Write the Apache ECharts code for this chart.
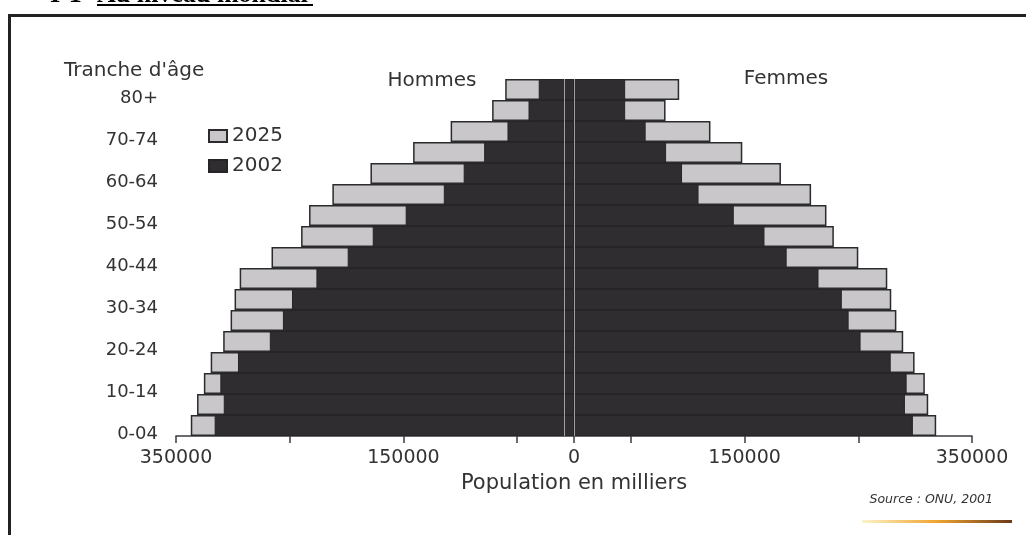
<!DOCTYPE html>
<html>
<head>
<meta charset="utf-8">
<script src="https://cdn.jsdelivr.net/npm/echarts@6/dist/echarts.min.js"></script>
<style>
  html, body { margin: 0; padding: 0; background: #fff; }
  #chart { width: 1026px; height: 535px; }
</style>
</head>
<body>
<div id="chart"></div>
<script>
// age groups, bottom to top
const ageGroups = ['0-04', '05-09', '10-14', '15-19', '20-24', '25-29', '30-34', '35-39', '40-44',
  '45-49', '50-54', '55-59', '60-64', '65-69', '70-74', '75-79', '80+'];

// population in thousands
const men2002 = [316000, 308000, 311000, 295500, 267500, 256000, 248000, 226500, 199000,
  177000, 148000, 114500, 97000, 79000, 58500, 40000, 31000];
const men2025 = [337000, 331500, 325500, 319500, 308500, 302000, 298500, 294000, 266000,
  240000, 233000, 212500, 179000, 141500, 108500, 72000, 60500];
const women2002 = [298000, 291000, 292500, 278500, 252000, 241500, 235500, 215000, 187000,
  167500, 140500, 109500, 95000, 81000, 63000, 45000, 45000];
const women2025 = [318500, 311500, 308500, 299500, 289500, 283500, 279000, 275500, 250000,
  228500, 222000, 208500, 182000, 148000, 120000, 80500, 92500];

const tickValues = [-350000, -250000, -150000, -50000, 0, 50000, 150000, 250000, 350000];
const labelValues = [-350000, -150000, 0, 150000, 350000];
const centerLines = [0, -9000];

const chart = echarts.init(document.getElementById('chart'));
const font = '"DejaVu Sans", sans-serif';
const light = { color: '#c9c7ca', borderColor: '#2b2a2c', borderWidth: 1.5 };
const dark = { color: '#302d31', borderColor: '#262427', borderWidth: 1 };
const neg = arr => arr.map(v => -v);

const option = {
  animation: false,
  backgroundColor: '#fff',
  textStyle: { fontFamily: font },
  title: {
    text: "Tranche d'âge",
    left: 64,
    top: 61,
    padding: 0,
    textStyle: { fontSize: 20, fontWeight: 'normal', color: '#333', fontFamily: font }
  },
  legend: {
    data: ['2025', '2002'],
    orient: 'vertical',
    left: 208,
    top: 126,
    padding: 0,
    itemWidth: 18,
    itemHeight: 12,
    itemGap: 10,
    icon: 'rect',
    textStyle: { fontSize: 20, color: '#333', fontFamily: font }
  },
  grid: { left: 176, right: 54, top: 79, bottom: 99, containLabel: false },
  xAxis: {
    type: 'value',
    min: -350000,
    max: 350000,
    interval: 50000,
    name: 'Population en milliers',
    nameLocation: 'middle',
    nameGap: 37,
    nameTextStyle: { fontSize: 21, color: '#333', fontFamily: font },
    axisLine: { show: true, onZero: false, lineStyle: { color: '#3a3a40', width: 1.5 } },
    axisTick: { show: true, length: 7, customValues: tickValues, lineStyle: { color: '#3a3a40', width: 1.5 } },
    axisLabel: {
      customValues: labelValues,
      formatter: v => String(Math.abs(v)),
      fontSize: 19,
      color: '#333',
      margin: 13
    },
    splitLine: { show: false }
  },
  yAxis: {
    type: 'category',
    data: ageGroups,
    axisLine: { show: false },
    axisTick: { show: false },
    axisLabel: {
      interval: 1,
      fontSize: 18,
      color: '#333',
      margin: 18,
      verticalAlign: 'top'
    }
  },
  series: [
    { name: '2025', type: 'bar', stack: 'y2025', data: neg(men2025), itemStyle: light,
      barCategoryGap: 0, barGap: '-100%' },
    { name: '2025', type: 'bar', stack: 'y2025', data: women2025, itemStyle: light },
    { name: '2002', type: 'bar', stack: 'y2002', data: neg(men2002), itemStyle: dark },
    { name: '2002', type: 'bar', stack: 'y2002', data: women2002, itemStyle: dark,
      markLine: {
        silent: true,
        symbol: 'none',
        label: { show: false },
        lineStyle: { color: '#bdbbbe', width: 1, type: 'solid', opacity: 0.8 },
        data: centerLines.map(v => ({ xAxis: v }))
      }
    }
  ],
  graphic: [
    // scan frame
    { type: 'rect', shape: { x: 8, y: 14, width: 3, height: 521 }, style: { fill: '#222' } },
    { type: 'rect', shape: { x: 8, y: 14, width: 1018, height: 3 }, style: { fill: '#222' } },
    // cut-off heading
    { type: 'text', x: 50, y: 8, style: { text: 'I-1', font: 'bold 26px "Liberation Serif", serif',
      fill: '#000', verticalAlign: 'bottom', textVerticalAlign: 'bottom' } },
    { type: 'text', x: 97, y: 8, style: { text: 'Au niveau mondial', font: 'bold 26px "Liberation Serif", serif',
      fill: '#000', verticalAlign: 'bottom', textVerticalAlign: 'bottom' } },
    { type: 'rect', shape: { x: 97, y: 4, width: 216, height: 2 }, style: { fill: '#000' } },
    // side titles
    { type: 'text', x: 432, y: 81, style: { text: 'Hommes', font: '20px "DejaVu Sans", sans-serif', fill: '#333',
      align: 'center', textAlign: 'center', verticalAlign: 'middle', textVerticalAlign: 'middle' } },
    { type: 'text', x: 786, y: 79, style: { text: 'Femmes', font: '20px "DejaVu Sans", sans-serif', fill: '#333',
      align: 'center', textAlign: 'center', verticalAlign: 'middle', textVerticalAlign: 'middle' } },
    { type: 'text', x: 993, y: 500, style: { text: 'Source : ONU, 2001', font: 'italic 12.5px "DejaVu Sans", sans-serif',
      fill: '#333', align: 'right', textAlign: 'right', verticalAlign: 'middle', textVerticalAlign: 'middle' } },
    // scan colour streak
    { type: 'rect', shape: { x: 862, y: 520, width: 150, height: 3 },
      style: { fill: new echarts.graphic.LinearGradient(0, 0, 1, 0, [
        { offset: 0, color: '#fbf3c8' }, { offset: 0.5, color: '#f0a430' }, { offset: 1, color: '#6a3a1a' }]) } }
  ]
};

chart.setOption(option);
window.addEventListener('resize', () => chart.resize());
</script>
</body>
</html>
